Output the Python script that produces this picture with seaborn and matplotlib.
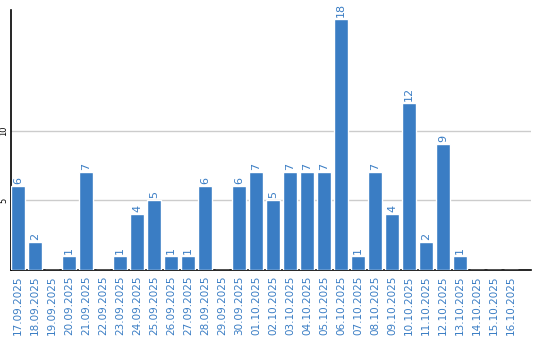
import matplotlib
matplotlib.use("Agg")
import matplotlib.pyplot as plt
import seaborn as sns
import pandas as pd

dates = ["17.09.2025", "18.09.2025", "19.09.2025", "20.09.2025", "21.09.2025",
         "22.09.2025", "23.09.2025", "24.09.2025", "25.09.2025", "26.09.2025",
         "27.09.2025", "28.09.2025", "29.09.2025", "30.09.2025", "01.10.2025",
         "02.10.2025", "03.10.2025", "04.10.2025", "05.10.2025", "06.10.2025",
         "07.10.2025", "08.10.2025", "09.10.2025", "10.10.2025", "11.10.2025",
         "12.10.2025", "13.10.2025", "14.10.2025", "15.10.2025", "16.10.2025"]
counts = [6, 2, 0, 1, 7, 0, 1, 4, 5, 1, 1, 6, 0, 6, 7, 5, 7, 7, 7, 18,
          1, 7, 4, 12, 2, 9, 1, 0, 0, 0]
y_ticks = [5, 10]

sns.set_style("white")
plt.rcParams['font.family'] = ['DejaVu Sans']

df = pd.DataFrame({"date": dates, "count": counts})
blue = "#3a7dc4"

fig = plt.figure(figsize=(5.4, 3.4), dpi=100)
ax = fig.add_axes([11/540, 70/340, 519.7/540, 260/340])
sns.barplot(data=df, x="date", y="count", color=blue, width=0.806,
            saturation=1, ax=ax, zorder=3)
ax.set_xlim(-0.42, 30.15)
ax.set_ylim(0, 18.64)
ax.set_yticks(y_ticks)
ax.set_yticklabels([str(t) for t in y_ticks], rotation=90, fontsize=6,
                   va="center", color="black")
ax.yaxis.grid(True, color="#cccccc", linewidth=1, zorder=0)
ax.set_axisbelow(True)
ax.tick_params(axis="x", rotation=90, labelsize=7.5, colors=blue, length=0, pad=4)
ax.tick_params(axis="y", length=0, pad=2)
for lbl in ax.get_xticklabels():
    lbl.set_color(blue)
ax.set_xlabel("")
ax.set_ylabel("")
for s in ["top", "right"]:
    ax.spines[s].set_visible(False)
ax.spines["left"].set_color("black")
ax.spines["bottom"].set_color("black")
ax.spines["left"].set_linewidth(1.2)
ax.spines["bottom"].set_linewidth(1.2)

for i, v in enumerate(counts):
    if v > 0:
        ax.text(i, v + 0.15, str(v), rotation=90, ha="center", va="bottom",
                fontsize=8, color=blue)

fig.savefig("out.png", dpi=100)
